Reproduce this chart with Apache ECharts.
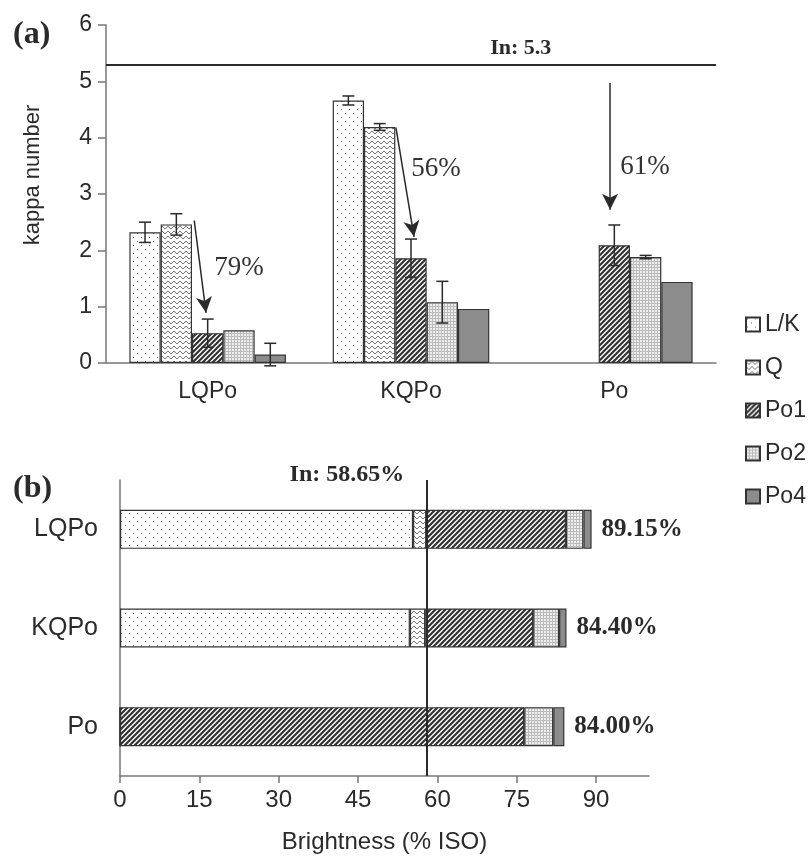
<!DOCTYPE html>
<html>
<head>
<meta charset="utf-8">
<script src="https://cdn.jsdelivr.net/npm/echarts@6/dist/echarts.min.js"></script>
<style>
  html, body { margin: 0; padding: 0; background: #fff; }
  #chart { width: 812px; height: 859px; }
</style>
</head>
<body>
<div id="chart"></div>
<script>
// (a) kappa number per sequence
const groups = ["LQPo", "KQPo", "Po"];
const stageNames = ["L/K", "Q", "Po1", "Po2", "Po4"];
const kappaLK = [2.32, 4.66, null];
const kappaQ = [2.46, 4.19, null];
const kappaPo1 = [0.53, 1.86, 2.09];
const kappaPo2 = [0.58, 1.08, 1.88];
const kappaPo4 = [0.15, 0.96, 1.44];
const errLK = [0.18, 0.08, null];
const errQ = [0.19, 0.06, null];
const errPo1 = [0.25, 0.34, 0.36];
const errPo2 = [null, 0.37, 0.03];
const errPo4 = [0.2, null, null];
const kappaIn = 5.3;
const kappaTicks = [0, 1, 2, 3, 4, 5, 6];
// arrows: [x0, y0, x1, y1] on a 0..3 overlay axis, and the drop labels
const arrows = [
    [0.434, 2.53, 0.492, 0.89],
    [1.426, 4.18, 1.515, 2.24],
    [2.479, 4.97, 2.479, 2.72],
];
const dropLabels = ["79%", "56%", "61%"];
const dropPos = [[0.654, 1.69], [1.623, 3.44], [2.651, 3.48]];

// (b) brightness, stacked per stage
const brightLK = [55.4, 54.8, 0];
const brightQ = [2.5, 2.9, 0];
const brightPo1 = [26.4, 20.4, 76.4];
const brightPo2 = [3.3, 4.9, 5.5];
const brightPo4 = [1.55, 1.4, 2.1];
const brightTotals = ["89.15%", "84.40%", "84.00%"];
const brightIn = 57.9;
const brightInLabel = "In: 58.65%";
const brightTicks = [0, 15, 30, 45, 60, 75, 90];

const SANS = "Liberation Sans";
const SERIF = "Liberation Serif";
const INK = "#2a2a2a";
const AXIS = "#777";

function makePattern(w, h, draw) {
    const c = document.createElement("canvas");
    c.width = w;
    c.height = h;
    draw(c.getContext("2d"));
    return { image: c, repeat: "repeat" };
}

const fills = [
    makePattern(8, 8, (g) => {
        g.fillStyle = "#fff"; g.fillRect(0, 0, 8, 8);
        g.fillStyle = "#666"; g.fillRect(1, 1, 1, 1); g.fillRect(5, 5, 1, 1);
    }),
    makePattern(6, 5, (g) => {
        g.fillStyle = "#fff"; g.fillRect(0, 0, 6, 5);
        g.strokeStyle = "#777"; g.lineWidth = 1;
        g.beginPath(); g.moveTo(0, 1); g.lineTo(3, 4); g.lineTo(6, 1); g.stroke();
    }),
    makePattern(5, 5, (g) => {
        g.fillStyle = "#fff"; g.fillRect(0, 0, 5, 5);
        g.strokeStyle = "#333"; g.lineWidth = 2.2;
        g.beginPath();
        g.moveTo(0, 5); g.lineTo(5, 0);
        g.moveTo(-1, 1); g.lineTo(1, -1);
        g.moveTo(4, 6); g.lineTo(6, 4);
        g.stroke();
    }),
    makePattern(3, 3, (g) => {
        g.fillStyle = "#eee"; g.fillRect(0, 0, 3, 3);
        g.fillStyle = "#bbb"; g.fillRect(0, 0, 1, 3); g.fillRect(0, 0, 3, 1);
    }),
    "#8c8c8c",
];

const kappaData = [kappaLK, kappaQ, kappaPo1, kappaPo2, kappaPo4];
const kappaErr = [errLK, errQ, errPo1, errPo2, errPo4];
const brightData = [brightLK, brightQ, brightPo1, brightPo2, brightPo4];
const CAT_GAP = 0.23;

const chart = echarts.init(document.getElementById("chart"));

const series = [];

stageNames.forEach((name, i) => {
    series.push({
        name,
        type: "bar",
        xAxisIndex: 0,
        yAxisIndex: 0,
        data: kappaData[i],
        barGap: "0%",
        barCategoryGap: CAT_GAP * 100 + "%",
        itemStyle: { color: fills[i], borderColor: "#333", borderWidth: 1.2 },
    });
});

// error bars, placed on the slot of each grouped bar
stageNames.forEach((name, i) => {
    const data = [];
    groups.forEach((g, k) => {
        if (kappaErr[i][k] != null) data.push([k, kappaData[i][k], kappaErr[i][k]]);
    });
    series.push({
        name: "err-" + name,
        type: "custom",
        xAxisIndex: 0,
        yAxisIndex: 0,
        clip: false,
        z: 5,
        data,
        renderItem: (params, api) => {
            const k = api.value(0);
            const v = api.value(1);
            const e = api.value(2);
            const mid = api.coord([k, v]);
            const band = api.size([1, 0])[0];
            const group = band * (1 - CAT_GAP);
            const bw = group / stageNames.length;
            const x = mid[0] - group / 2 + bw * (i + 0.5);
            const hi = api.coord([k, v + e])[1];
            const lo = api.coord([k, v - e])[1];
            const style = { stroke: INK, lineWidth: 1.5 };
            return {
                type: "group",
                children: [
                    { type: "line", shape: { x1: x, y1: hi, x2: x, y2: lo }, style },
                    { type: "line", shape: { x1: x - 6, y1: hi, x2: x + 6, y2: hi }, style },
                    { type: "line", shape: { x1: x - 6, y1: lo, x2: x + 6, y2: lo }, style },
                ],
            };
        },
    });
});

// overlay for annotations in panel (a)
series.push({
    name: "notes-a",
    type: "line",
    xAxisIndex: 1,
    yAxisIndex: 0,
    data: [],
    silent: true,
    markLine: {
        silent: true,
        animation: false,
        symbol: ["none", "none"],
        data: [
            {
                yAxis: kappaIn,
                lineStyle: { color: INK, width: 2, type: "solid" },
            },
        ].concat(
            arrows.map((a) => [
                { coord: [a[0], a[1]], symbol: "none" },
                { coord: [a[2], a[3]], symbol: "arrow", symbolSize: [12, 16] },
            ])
        ),
        lineStyle: { color: INK, width: 1.5, type: "solid" },
        label: { show: false },
    },
    markPoint: {
        silent: true,
        animation: false,
        symbol: "circle",
        symbolSize: 0,
        data: [
            {
                coord: [2.04, kappaIn],
                label: {
                    show: true,
                    formatter: "In: " + kappaIn,
                    position: [0, -16],
                    align: "center",
                    verticalAlign: "middle",
                    fontFamily: SERIF,
                    fontWeight: "bold",
                    fontSize: 22,
                    color: INK,
                },
            },
        ].concat(
            dropLabels.map((t, k) => ({
                coord: dropPos[k],
                label: {
                    show: true,
                    formatter: t,
                    position: [0, 0],
                    align: "center",
                    verticalAlign: "middle",
                    fontFamily: SERIF,
                    fontSize: 27,
                    color: "#333",
                },
            }))
        ),
    },
});

stageNames.forEach((name, i) => {
    const s = {
        name,
        type: "bar",
        xAxisIndex: 2,
        yAxisIndex: 1,
        stack: "bright",
        data: brightData[i],
        barWidth: 39,
        itemStyle: { color: fills[i], borderColor: "#333", borderWidth: 1.2 },
    };
    if (i === stageNames.length - 1) {
        s.label = {
            show: true,
            position: "right",
            distance: 10,
            formatter: (p) => brightTotals[p.dataIndex],
            fontFamily: SERIF,
            fontWeight: "bold",
            fontSize: 25,
            color: INK,
        };
    }
    if (i === 0) {
        s.markLine = {
            silent: true,
            animation: false,
            symbol: ["none", "none"],
            lineStyle: { color: INK, width: 2, type: "solid" },
            label: { show: false },
            data: [{ xAxis: brightIn }],
        };
        s.markPoint = {
            silent: true,
            animation: false,
            symbol: "circle",
            symbolSize: 0,
            data: [
                {
                    coord: [brightIn, 0],
                    label: {
                        show: true,
                        formatter: brightInLabel,
                        position: [-22, -55],
                        align: "right",
                        verticalAlign: "middle",
                        fontFamily: SERIF,
                        fontWeight: "bold",
                        fontSize: 24,
                        color: INK,
                    },
                },
            ],
        };
    }
    series.push(s);
});

const option = {
    animation: false,
    backgroundColor: "#fff",
    title: [
        { text: "(a)", left: 8, top: 14, textStyle: { fontFamily: SERIF, fontWeight: "bold", fontSize: 32, color: INK } },
        { text: "(b)", left: 8, top: 468, textStyle: { fontFamily: SERIF, fontWeight: "bold", fontSize: 32, color: INK } },
    ],
    legend: {
        data: stageNames,
        orient: "vertical",
        left: 740,
        top: 308,
        icon: "rect",
        itemWidth: 14,
        itemHeight: 14,
        itemGap: 20,
        textStyle: { fontFamily: SANS, fontSize: 23, color: INK },
    },
    grid: [
        { left: 106, right: 96, top: 25, bottom: 496 },
        { left: 120, right: 163, top: 480, bottom: 83 },
    ],
    xAxis: [
        {
            type: "category",
            gridIndex: 0,
            data: groups,
            axisLine: { lineStyle: { color: AXIS, width: 1.5 } },
            axisTick: { length: 6, lineStyle: { color: AXIS, width: 1.5 } },
            axisLabel: { fontFamily: SANS, fontSize: 23, color: INK, margin: 17 },
        },
        { type: "value", gridIndex: 0, min: 0, max: 3, show: false },
        {
            type: "value",
            gridIndex: 1,
            min: 0,
            max: 100,
            interval: 15,
            name: "Brightness (% ISO)",
            nameLocation: "middle",
            nameGap: 54,
            nameTextStyle: { fontFamily: SANS, fontSize: 24, color: INK },
            axisLine: { show: true, lineStyle: { color: AXIS, width: 1.5 } },
            axisTick: { show: true, length: 7, lineStyle: { color: AXIS, width: 1.5 }, customValues: brightTicks },
            axisLabel: { fontFamily: SANS, fontSize: 24, color: INK, margin: 12, customValues: brightTicks },
            splitLine: { show: false },
        },
    ],
    yAxis: [
        {
            type: "value",
            gridIndex: 0,
            min: 0,
            max: 6,
            interval: 1,
            name: "kappa number",
            nameLocation: "middle",
            nameGap: 62,
            nameTextStyle: { fontFamily: SANS, fontSize: 22, color: INK, padding: [0, 0, 0, 38] },
            axisLine: { show: true, lineStyle: { color: AXIS, width: 1.5 } },
            axisTick: { show: true, length: 8, lineStyle: { color: AXIS, width: 1.5 } },
            axisLabel: { fontFamily: SANS, fontSize: 23, color: INK, margin: 14, customValues: kappaTicks },
            splitLine: { show: false },
        },
        {
            type: "category",
            gridIndex: 1,
            data: groups,
            inverse: true,
            axisLine: { lineStyle: { color: AXIS, width: 1.5 } },
            axisTick: { length: 7, lineStyle: { color: AXIS, width: 1.5 } },
            axisLabel: { fontFamily: SANS, fontSize: 25, color: INK, margin: 22 },
        },
    ],
    series,
};

chart.setOption(option);
</script>
</body>
</html>
